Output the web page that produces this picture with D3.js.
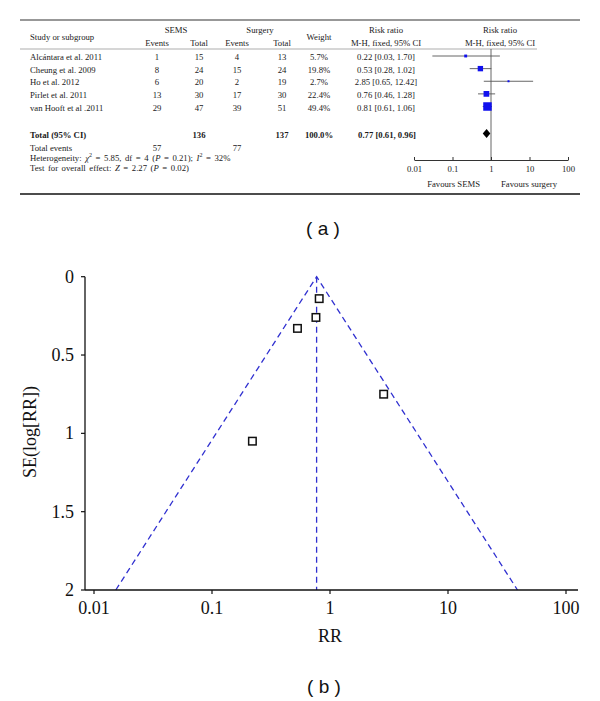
<!DOCTYPE html>
<html><head><meta charset="utf-8">
<script src="https://cdn.jsdelivr.net/npm/d3@7"></script>
<style>body{margin:0;background:#fff}svg{display:block}</style>
</head><body>
<script>
// ---------- data ----------
const studies = ["Alcántara et al. 2011","Cheung et al. 2009","Ho et al. 2012","Pirlet et al. 2011","van Hooft et al .2011"];
const semsEvents = [1, 8, 6, 13, 29];
const semsTotal = [15, 24, 20, 30, 47];
const surgEvents = [4, 15, 2, 17, 39];
const surgTotal = [13, 24, 19, 30, 51];
const weights = [5.7, 19.8, 2.7, 22.4, 49.4];
const rr = [0.22, 0.53, 2.85, 0.76, 0.81];
const ciLow = [0.03, 0.28, 0.65, 0.46, 0.61];
const ciHigh = [1.70, 1.02, 12.42, 1.28, 1.06];
const total = {semsTotal:136, surgTotal:137, semsEvents:57, surgEvents:77, weight:100.0, rr:0.77, lo:0.61, hi:0.96};
const forestTicks = [0.01, 0.1, 1, 10, 100];
const forestTickLabels = ["0.01","0.1","1","10","100"];
// funnel plot
const funnelSE = [1.05, 0.33, 0.75, 0.26, 0.14];
const funnelTicksX = [0.01, 0.1, 1, 10, 100];
const funnelTickLabelsX = ["0.01","0.1","1","10","100"];
const funnelTicksY = [0, 0.5, 1, 1.5, 2];
const funnelTickLabelsY = ["0","0.5","1","1.5","2"];
const pooledRR = 0.77;
const funnelBaseSE = 2;
const funnelBaseLow = 0.0153;
const funnelBaseHigh = 38.8;

// ---------- setup ----------
const W = 600, H = 701;
const svg = d3.select("body").append("svg").attr("width", W).attr("height", H);
const serif = "'Liberation Serif','Times New Roman',serif";
const sans = "'Liberation Sans',Arial,sans-serif";
const fs = 8.7;

function txt(x, y, s, anchor = "middle", opts = {}) {
  return svg.append("text").attr("x", x).attr("y", y).attr("text-anchor", anchor)
    .attr("dominant-baseline", "central")
    .attr("font-family", opts.family || serif).attr("font-size", opts.size || fs)
    .attr("font-weight", opts.bold ? "bold" : "normal")
    .attr("fill", opts.fill || "#1a1a1a").text(s);
}

// ---------- (a) forest plot ----------
svg.append("line").attr("x1", 20).attr("x2", 580).attr("y1", 20).attr("y2", 20).attr("stroke", "#333").attr("stroke-width", 1.2);
svg.append("line").attr("x1", 20).attr("x2", 580).attr("y1", 194).attr("y2", 194).attr("stroke", "#111").attr("stroke-width", 1.6);
svg.append("line").attr("x1", 20).attr("x2", 537).attr("y1", 49).attr("y2", 49).attr("stroke", "#777").attr("stroke-width", 0.6);

txt(30, 37, "Study or subgroup", "start");
txt(176, 30, "SEMS"); txt(260, 30, "Surgery");
txt(157, 43, "Events"); txt(199, 43, "Total"); txt(237, 43, "Events"); txt(282, 43, "Total");
txt(319, 37, "Weight");
txt(386, 30, "Risk ratio"); txt(386, 43, "M-H, fixed, 95% CI");
txt(500, 30, "Risk ratio"); txt(500, 43, "M-H, fixed, 95% CI");

const rowY = d3.scaleLinear().domain([0, 4]).range([57, 107.5]);
const fx = d3.scaleLog().domain([0.01, 100]).range([414, 568]);
const fmt2 = d3.format(".2f");

studies.forEach((s, i) => {
  const y = rowY(i);
  txt(30, y, s, "start");
  txt(157, y, semsEvents[i]); txt(199, y, semsTotal[i]);
  txt(237, y, surgEvents[i]); txt(282, y, surgTotal[i]);
  txt(319, y, weights[i].toFixed(1) + "%");
  txt(386, y, `${fmt2(rr[i])} [${fmt2(ciLow[i])}, ${fmt2(ciHigh[i])}]`);
});

// vertical line at 1
svg.append("line").attr("x1", fx(1)).attr("x2", fx(1)).attr("y1", 49).attr("y2", 160).attr("stroke", "#555").attr("stroke-width", 0.9);

studies.forEach((s, i) => {
  const y = rowY(i) - 1;
  svg.append("line").attr("x1", fx(ciLow[i])).attr("x2", fx(ciHigh[i])).attr("y1", y).attr("y2", y).attr("stroke", "#555").attr("stroke-width", 0.9);
  const sz = Math.max(2, 8.5 * Math.sqrt(weights[i] / 49.4));
  svg.append("rect").attr("x", fx(rr[i]) - sz / 2).attr("y", y - sz / 2).attr("width", sz).attr("height", sz).attr("fill", "#1010ee");
});

// total row
const ty = 135;
txt(30, ty, "Total (95% CI)", "start", {bold: true});
txt(199, ty, total.semsTotal, "middle", {bold: true});
txt(282, ty, total.surgTotal, "middle", {bold: true});
txt(319, ty, total.weight.toFixed(1) + "%", "middle", {bold: true});
txt(387, ty, `${fmt2(total.rr)} [${fmt2(total.lo)}, ${fmt2(total.hi)}]`, "middle", {bold: true});
const dy = ty - 1.5;
svg.append("path").attr("d", `M${fx(total.lo)},${dy} L${fx(total.rr)},${dy - 4.5} L${fx(total.hi)},${dy} L${fx(total.rr)},${dy + 4.5} Z`).attr("fill", "#000");

txt(30, 148, "Total events", "start");
txt(157, 148, total.semsEvents); txt(237, 148, total.surgEvents);

const het = txt(30, 158, "", "start").attr("word-spacing", 1.4);
het.append("tspan").text("Heterogeneity: ");
het.append("tspan").attr("font-style", "italic").text("χ");
het.append("tspan").attr("font-size", 6).attr("dy", -3).text("2");
het.append("tspan").attr("dy", 3).text(" = 5.85, df = 4 (");
het.append("tspan").attr("font-style", "italic").text("P");
het.append("tspan").text(" = 0.21); ");
het.append("tspan").attr("font-style", "italic").text("I");
het.append("tspan").attr("font-size", 6).attr("dy", -3).text("2");
het.append("tspan").attr("dy", 3).text(" = 32%");

const tst = txt(30, 168, "", "start").attr("word-spacing", 1.4);
tst.append("tspan").text("Test for overall effect: ");
tst.append("tspan").attr("font-style", "italic").text("Z");
tst.append("tspan").text(" = 2.27 (");
tst.append("tspan").attr("font-style", "italic").text("P");
tst.append("tspan").text(" = 0.02)");

// forest axis
const fAxis = svg.append("g").attr("transform", "translate(0,160)")
  .call(d3.axisBottom(fx).tickValues(forestTicks).tickFormat((d, i) => forestTickLabels[i]).tickSize(3).tickSizeOuter(0));
fAxis.select(".domain").attr("stroke", "#333");
fAxis.selectAll(".tick line").attr("stroke", "#333").attr("transform", "translate(0,-3)");
fAxis.selectAll(".tick text").attr("font-family", serif).attr("font-size", fs).attr("fill", "#1a1a1a").attr("y", 6);
txt(480, 184, "Favours SEMS", "end");
txt(501, 184, "Favours surgery", "start");

txt(323, 228, "( a )", "middle", {family: sans, size: 19, fill: "#111"});

// ---------- (b) funnel plot ----------
const x = d3.scaleLog().domain([0.01, 100]).range([94, 566]);
const y = d3.scaleLinear().domain([0, 2]).range([276.7, 590]);
const blue = "#3030d0";

// funnel lines
svg.append("path").attr("d", d3.line()([[x(funnelBaseLow), y(funnelBaseSE)], [x(pooledRR), y(0)], [x(funnelBaseHigh), y(funnelBaseSE)]]))
  .attr("fill", "none").attr("stroke", blue).attr("stroke-width", 1.3).attr("stroke-dasharray", "6,4");
svg.append("line").attr("x1", x(pooledRR)).attr("x2", x(pooledRR)).attr("y1", y(0)).attr("y2", y(funnelBaseSE))
  .attr("stroke", blue).attr("stroke-width", 1.3).attr("stroke-dasharray", "6,4");

// axes
svg.append("line").attr("x1", 85).attr("x2", 85).attr("y1", y(0)).attr("y2", y(2)).attr("stroke", "#111").attr("stroke-width", 1.3);
svg.append("line").attr("x1", 85).attr("x2", 578).attr("y1", y(2)).attr("y2", y(2)).attr("stroke", "#111").attr("stroke-width", 1.3);
funnelTicksY.forEach((v, i) => {
  svg.append("line").attr("x1", 81).attr("x2", 85).attr("y1", y(v)).attr("y2", y(v)).attr("stroke", "#111").attr("stroke-width", 1.2);
  txt(74, y(v), funnelTickLabelsY[i], "end", {size: 18, fill: "#111"});
});
funnelTicksX.forEach((v, i) => {
  svg.append("line").attr("x1", x(v)).attr("x2", x(v)).attr("y1", y(2)).attr("y2", y(2) + 4).attr("stroke", "#111").attr("stroke-width", 1.2);
  txt(x(v), 608, funnelTickLabelsX[i], "middle", {size: 18, fill: "#111"});
});
txt(x(1), 636, "RR", "middle", {size: 18, fill: "#111"});
svg.append("text").attr("transform", `translate(30,432) rotate(-90)`).attr("text-anchor", "middle")
  .attr("dominant-baseline", "central").attr("font-family", serif).attr("font-size", 18).attr("fill", "#111").text("SE(log[RR])");

// points
rr.forEach((v, i) => {
  svg.append("rect").attr("x", x(v) - 3.75).attr("y", y(funnelSE[i]) - 3.75).attr("width", 7.5).attr("height", 7.5)
    .attr("fill", "#fff").attr("stroke", "#111").attr("stroke-width", 1.5);
});

txt(324, 686, "( b )", "middle", {family: sans, size: 19, fill: "#111"});
</script>
</body></html>
